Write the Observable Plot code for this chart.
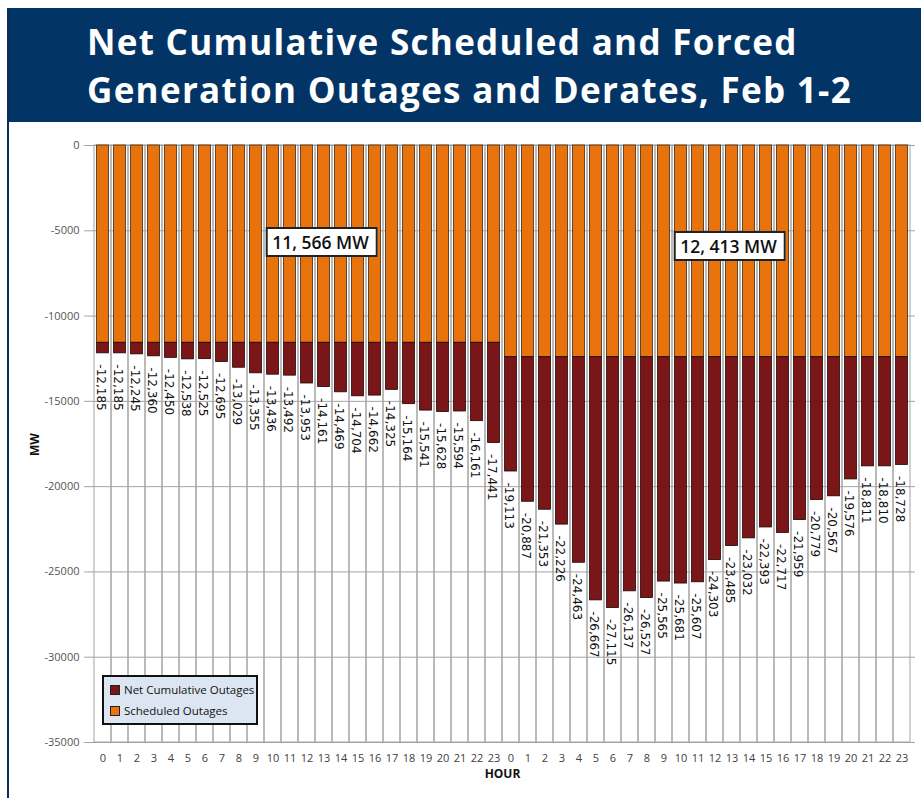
<!DOCTYPE html>
<html>
<head>
<meta charset="utf-8">
<script src="https://cdn.jsdelivr.net/npm/d3@7"></script>
<script src="https://cdn.jsdelivr.net/npm/@observablehq/plot@0.6"></script>
<style>
  body { margin: 0; background: #fff; }
  #wrap { position: relative; width: 921px; height: 798px; overflow: hidden; font-family: "Open Sans", sans-serif; }
  #header { position: absolute; left: 8px; top: 8px; width: 913px; height: 114px; background: #033466; }
  #title { position: absolute; left: 87px; top: 18px; color: #fff; font-family: "Open Sans", sans-serif; font-weight: 700; font-size: 35px; line-height: 48px; letter-spacing: 1.3px; white-space: nowrap; }
  #leftline { position: absolute; left: 7px; top: 8px; width: 2px; height: 790px; background: #0b2d5a; }
  #chart { position: absolute; left: 0; top: 125px; }
  #legend { position: absolute; left: 102px; top: 675px; width: 152px; height: 46px; background: #dce6f2; border: 2px solid #111; font-size: 11.5px; color: #111; }
  .li { position: absolute; left: 6px; display: flex; align-items: center; white-space: nowrap; }
  .sw { width: 8px; height: 8px; border: 1px solid #222; margin-right: 4px; }
  .ann { position: absolute; transform: translate(-50%, -50%); background: #fff; border: 2px solid #222; font-family: "Open Sans", sans-serif; font-weight: 600; font-size: 17.5px; color: #111; padding: 2px 7px 2px 5px; white-space: nowrap; line-height: 22px; }
</style>
</head>
<body>
<div id="wrap">
  <div id="header"></div>
  <div id="title">Net Cumulative Scheduled and Forced<br>Generation Outages and Derates, Feb 1-2</div>
  <div id="leftline"></div>
  <div id="chart"></div>
  <div id="legend">
    <div class="li" style="top:5px"><div class="sw" style="background:#7a1618"></div>Net Cumulative Outages</div>
    <div class="li" style="top:26px"><div class="sw" style="background:#e8720c"></div>Scheduled Outages</div>
  </div>
</div>
<script>
const days = [0, 1];
const hours = [0,1,2,3,4,5,6,7,8,9,10,11,12,13,14,15,16,17,18,19,20,21,22,23];
const netDay1 = [-12185, -12185, -12245, -12360, -12450, -12538, -12525, -12695, -13029, -13355, -13436, -13492,
                 -13953, -14161, -14469, -14704, -14662, -14325, -15164, -15541, -15628, -15594, -16161, -17441];
const netDay2 = [-19113, -20887, -21353, -22226, -24463, -26667, -27115, -26137, -26527, -25565, -25681, -25607,
                 -24303, -23485, -23032, -22393, -22717, -21959, -20779, -20567, -19576, -18811, -18810, -18728];
const scheduled = [-11566, -12413];
const yTicks = [0, -5000, -10000, -15000, -20000, -25000, -30000, -35000];
const annotations = [
  {day: 0, hour: 13, y: -5700, text: "11, 566 MW"},
  {day: 1, hour: 13, y: -5950, text: "12, 413 MW"}
];

const nets = [netDay1, netDay2];
const rows = [];
days.forEach(d => hours.forEach((h, i) => rows.push({key: `${d}-${h}`, hour: h, sched: scheduled[d], net: nets[d][i]})));
const keys = rows.map(r => r.key);
const hourOf = new Map(rows.map(r => [r.key, r.hour]));

const orange = "#e8720c", red = "#7a1618", grid = "#a3a3a3";

const plot = Plot.plot({
  width: 921,
  height: 673,
  marginLeft: 89,
  marginRight: 6,
  marginTop: 20,
  marginBottom: 56,
  style: {fontFamily: "Open Sans, sans-serif", background: "transparent"},
  x: {type: "band", domain: keys, padding: 0, axis: null},
  y: {domain: [yTicks[yTicks.length - 1], yTicks[0]], axis: null},
  marks: [
    Plot.ruleY(yTicks, {stroke: grid, strokeWidth: 1}),
    Plot.barY(rows, {x: "key", y1: yTicks[0], y2: yTicks[yTicks.length - 1], fill: "none", stroke: grid, strokeWidth: 1}),
    Plot.barY(rows, {x: "key", y1: 0, y2: "sched", fill: orange, stroke: "#3a2616", strokeWidth: 0.8, insetLeft: 2.6, insetRight: 2.6}),
    Plot.barY(rows, {x: "key", y1: "sched", y2: "net", fill: red, stroke: "#1a0505", strokeWidth: 0.8, insetLeft: 2.6, insetRight: 2.6}),
    Plot.text(rows, {x: "key", y: "net", text: d => d.net.toLocaleString("en-US"), rotate: 90, textAnchor: "start",
      dy: 11, dx: -2, fontSize: 12, fontFamily: "DejaVu Sans", fill: "#111"}),
    Plot.axisY({ticks: yTicks, tickFormat: d => String(d), tickSize: 5, tickPadding: 5, fontSize: 11, color: "#555", stroke: grid, label: null}),
    Plot.axisX({tickFormat: k => hourOf.get(k), tickSize: 0, tickPadding: 12, fontSize: 11, color: "#404040", label: null}),
    Plot.text(["MW"], {frameAnchor: "left", dx: -54, dy: 12, rotate: -90, fontWeight: "bold", fontSize: 12, fill: "#111"}),
    Plot.text(["HOUR"], {frameAnchor: "bottom", dy: 35, fontWeight: "bold", fontSize: 12, fill: "#111"})
  ]
});
document.getElementById("chart").appendChild(plot);

const xs = plot.scale("x"), ys = plot.scale("y");
const wrap = document.getElementById("wrap");
annotations.forEach(a => {
  const div = document.createElement("div");
  div.className = "ann";
  div.textContent = a.text;
  div.style.left = (xs.apply(`${a.day}-${a.hour}`) + xs.bandwidth / 2 - 2) + "px";
  div.style.top = (125 + ys.apply(a.y)) + "px";
  wrap.appendChild(div);
});
</script>
</body>
</html>
